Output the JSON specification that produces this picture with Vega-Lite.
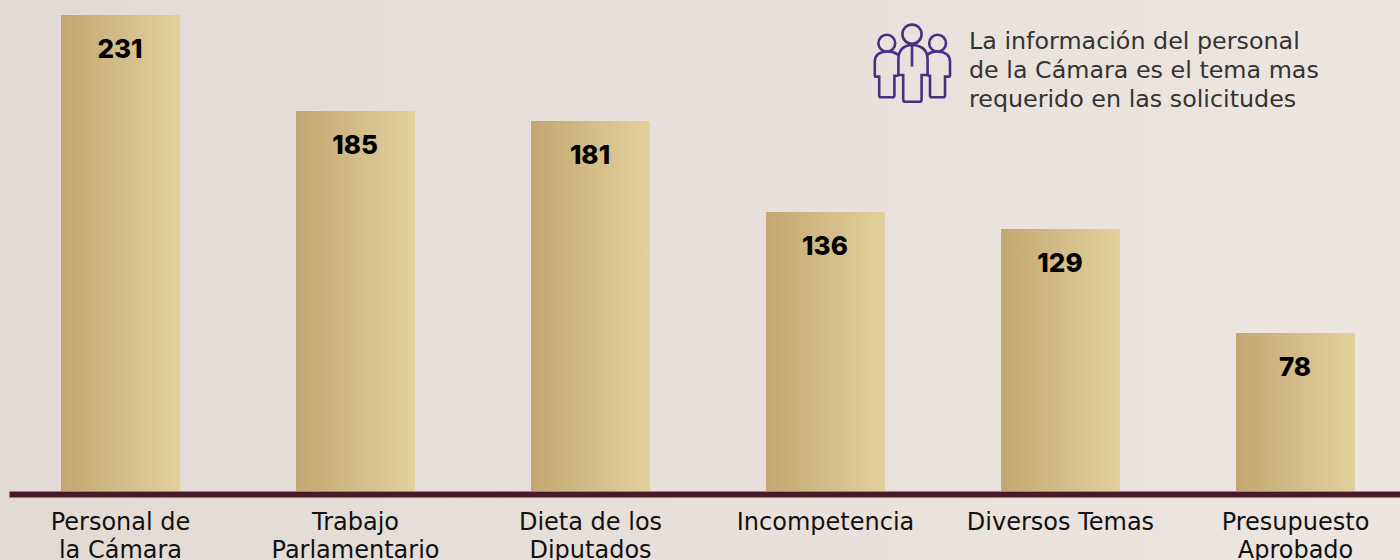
{"$schema":"https://vega.github.io/schema/vega-lite/v6.json","width":1400,"height":560,"padding":0,"autosize":"none","background":"#e8e0da","view":{"stroke":null},"config":{"font":"Inter"},"data":{"values":[{"tema":"Personal de\nla Cámara","altura":231,"valor":231},{"tema":"Trabajo\nParlamentario","altura":184.4,"valor":185},{"tema":"Dieta de los\nDiputados","altura":179.6,"valor":181},{"tema":"Incompetencia","altura":135.4,"valor":136},{"tema":"Diversos Temas","altura":127.1,"valor":129},{"tema":"Presupuesto\nAprobado","altura":76.7,"valor":78}]},"encoding":{"x":{"field":"tema","type":"nominal","sort":null,"title":null,"scale":{"type":"band","domain":["Personal de\nla Cámara","Trabajo\nParlamentario","Dieta de los\nDiputados","Incompetencia","Diversos Temas","Presupuesto\nAprobado"],"range":[9,1407],"paddingInner":0.4936,"paddingOuter":0.2213},"axis":{"orient":"bottom","offset":-66,"zindex":1,"domainWidth":6,"domainColor":"#4a1a2c","ticks":false,"labelAngle":0,"labelFont":"DejaVu Sans","labelFontSize":24,"labelColor":"#111111","labelPadding":16,"labelLineHeight":28,"labelOverlap":false,"labelBound":false,"labelFlush":false,"labelLimit":0,"labelExpr":"split(datum.value,'\\n')","grid":false}},"y":{"type":"quantitative","title":null,"scale":{"domain":[0,231],"range":[491,15]},"axis":null}},"layer":[{"data":{"values":[{"fondo":"degradado"}]},"mark":{"type":"rect","color":{"gradient":"linear","x1":0,"y1":0,"x2":1,"y2":0,"stops":[{"offset":0,"color":"#e2dad4"},{"offset":1,"color":"#ede6e0"}]}},"encoding":{"x":{"value":0},"x2":{"value":"width"},"y":{"value":0},"y2":{"value":"height"}}},{"mark":{"type":"bar","color":{"gradient":"linear","x1":0,"y1":0,"x2":1,"y2":0,"stops":[{"offset":0,"color":"#c2a772"},{"offset":1,"color":"#e3d19d"}]}},"encoding":{"y":{"field":"altura","type":"quantitative"}}},{"mark":{"type":"text","dy":35,"dx":-0.5,"baseline":"middle","fontWeight":800,"fontSize":26,"color":"#000000"},"encoding":{"y":{"field":"altura","type":"quantitative"},"text":{"field":"valor","type":"quantitative"}}},{"data":{"values":[{"tema":"Incompetencia","yv":218.4,"t":"La información del personal"},{"tema":"Incompetencia","yv":204.3,"t":"de la Cámara es el tema mas"},{"tema":"Incompetencia","yv":190.3,"t":"requerido en las solicitudes"}]},"mark":{"type":"text","align":"left","baseline":"middle","dx":143.5,"dy":1,"font":"DejaVu Sans","fontSize":23.8,"color":"#333333"},"encoding":{"y":{"field":"yv","type":"quantitative"},"text":{"field":"t","type":"nominal"}}},{"data":{"values":[{"tema":"Incompetencia","yv":207.5}]},"mark":{"type":"point","xOffset":86.5,"size":6400,"filled":false,"opacity":1,"stroke":"#4b2e83","strokeWidth":2.6,"shape":"M -0.24 -0.73 A 0.24 0.24 0 1 1 0.24 -0.73 A 0.24 0.24 0 1 1 -0.24 -0.73 Z M -0.42 -0.505 A 0.21 0.21 0 1 1 -0.84 -0.505 A 0.21 0.21 0 1 1 -0.42 -0.505 Z M 0.85 -0.505 A 0.21 0.21 0 1 1 0.43 -0.505 A 0.21 0.21 0 1 1 0.85 -0.505 Z M 0 -0.46 Q -0.34 -0.44 -0.34 -0.1 L -0.34 0.29 L -0.22 0.29 L -0.22 0.9 Q -0.22 0.96 -0.16 0.96 L 0.18 0.96 Q 0.24 0.96 0.24 0.9 L 0.24 0.29 L 0.39 0.29 L 0.39 -0.1 Q 0.39 -0.44 0 -0.46 Z M 0 -0.46 L 0 0.08 M -0.35 -0.22 Q -0.48 -0.31 -0.63 -0.3 Q -0.93 -0.28 -0.93 -0.05 L -0.93 0.3 Q -0.93 0.33 -0.9 0.33 L -0.82 0.33 L -0.82 0.8 Q -0.82 0.845 -0.77 0.845 L -0.49 0.845 Q -0.44 0.845 -0.44 0.8 L -0.44 0.31 L -0.34 0.31 M 0.39 -0.22 Q 0.5 -0.31 0.64 -0.3 Q 0.95 -0.28 0.95 -0.05 L 0.95 0.3 Q 0.95 0.33 0.92 0.33 L 0.825 0.33 L 0.825 0.8 Q 0.825 0.845 0.78 0.845 L 0.5 0.845 Q 0.45 0.845 0.45 0.8 L 0.45 0.31 L 0.39 0.31"},"encoding":{"y":{"field":"yv","type":"quantitative"}}}]}
